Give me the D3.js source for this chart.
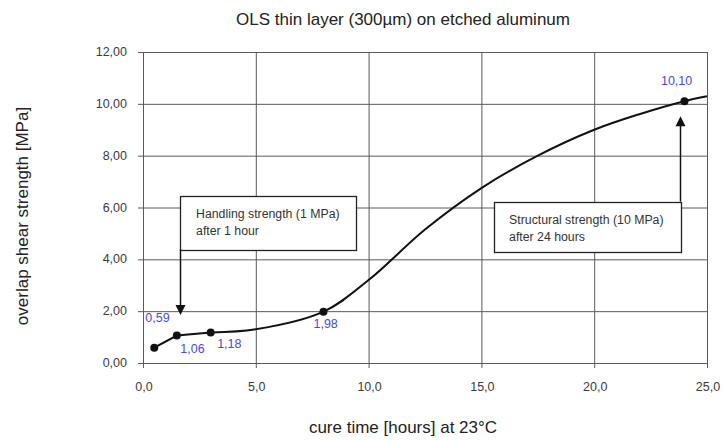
<!DOCTYPE html>
<html>
<head>
<meta charset="utf-8">
<script src="https://cdn.jsdelivr.net/npm/d3@7"></script>
<style>
  body { margin: 0; background: #fff; }
  svg { display: block; font-family: "Liberation Sans", Arial, sans-serif; }
</style>
</head>
<body>
<svg id="chart"></svg>
<script>
// measured points
const hours = [0.5, 1.5, 3, 8, 24];
const strength = [0.59, 1.06, 1.18, 1.98, 10.10];
const pointLabels = ["0,59", "1,06", "1,18", "1,98", "10,10"];

// smoothed trend line (straight over the first points)
const startHours = [0.5, 1.5, 3];
const startStrength = [0.59, 1.06, 1.18];
const curveHours = [3, 5, 8, 10, 12.5, 15, 17.5, 20, 22, 24, 25];
const curveStrength = [1.18, 1.3, 1.98, 3.2, 5.15, 6.75, 8.0, 9.0, 9.6, 10.1, 10.29];

const xTicks = [0, 5, 10, 15, 20, 25];
const yTicks = [0, 2, 4, 6, 8, 10, 12];

const title = "OLS thin layer (300µm) on etched aluminum";
const xTitle = "cure time [hours] at 23°C";
const yTitle = "overlap shear strength [MPa]";

const notes = [
  { lines: ["Handling strength (1 MPa)", "after 1 hour"] },
  { lines: ["Structural strength (10 MPa)", "after 24 hours"] }
];

const width = 725, height = 441;
const margin = { top: 52, right: 18, bottom: 78, left: 143 };

const svg = d3.select("#chart").attr("width", width).attr("height", height);

const x = d3.scaleLinear().domain([0, 25]).range([margin.left, width - margin.right]);
const y = d3.scaleLinear().domain([0, 12]).range([height - margin.bottom, margin.top]);

const gridColor = "#5a5a5a";
const textColor = "#3a3a3a";
const labelBlue = "#4a4ad6";

// grid
svg.append("g")
  .selectAll("line")
  .data(yTicks)
  .join("line")
  .attr("x1", x(0) - 5).attr("x2", x(25))
  .attr("y1", d => y(d) + 0.5).attr("y2", d => y(d) + 0.5)
  .attr("stroke", gridColor).attr("stroke-width", 1);

svg.append("g")
  .selectAll("line")
  .data(xTicks)
  .join("line")
  .attr("x1", d => x(d) + 0.5).attr("x2", d => x(d) + 0.5)
  .attr("y1", y(12)).attr("y2", y(0) + 5)
  .attr("stroke", gridColor).attr("stroke-width", 1);

// tick labels
const fmtY = d => d3.format(".2f")(d).replace(".", ",");
const fmtX = d => d3.format(".1f")(d).replace(".", ",");

svg.append("g")
  .selectAll("text")
  .data(yTicks)
  .join("text")
  .attr("x", x(0) - 16)
  .attr("y", d => y(d) + 4)
  .attr("text-anchor", "end")
  .attr("font-size", 12.5)
  .attr("fill", textColor)
  .text(fmtY);

svg.append("g")
  .selectAll("text")
  .data(xTicks)
  .join("text")
  .attr("x", d => x(d) + 1)
  .attr("y", y(0) + 28)
  .attr("text-anchor", "middle")
  .attr("font-size", 12.5)
  .attr("fill", textColor)
  .text(fmtX);

// titles
svg.append("text")
  .attr("x", 403).attr("y", 25)
  .attr("text-anchor", "middle")
  .attr("font-size", 17)
  .attr("fill", "#222")
  .text(title);

svg.append("text")
  .attr("x", 403).attr("y", 433)
  .attr("text-anchor", "middle")
  .attr("font-size", 17)
  .attr("fill", "#222")
  .text(xTitle);

svg.append("text")
  .attr("transform", "translate(28,216) rotate(-90)")
  .attr("text-anchor", "middle")
  .attr("font-size", 17)
  .attr("fill", "#222")
  .text(yTitle);

// trend: straight start, then smooth
const line = d3.line().x(d => x(d[0])).y(d => y(d[1]));
svg.append("path")
  .datum(startHours.map((h, i) => [h, startStrength[i]]))
  .attr("fill", "none")
  .attr("stroke", "#111")
  .attr("stroke-width", 2)
  .attr("d", line);

svg.append("path")
  .datum(curveHours.map((h, i) => [h, curveStrength[i]]))
  .attr("fill", "none")
  .attr("stroke", "#111")
  .attr("stroke-width", 2)
  .attr("d", line.curve(d3.curveCatmullRom.alpha(0.5)));

// markers
const pts = hours.map((h, i) => ({ h, v: strength[i], label: pointLabels[i] }));
svg.append("g")
  .selectAll("circle")
  .data(pts)
  .join("circle")
  .attr("cx", d => x(d.h))
  .attr("cy", d => y(d.v))
  .attr("r", 4)
  .attr("fill", "#111");

// value labels (offsets in px)
const labelOffsets = [[-9, -26], [3.5, 17], [6.5, 15.5], [-10, 16.5], [-23.5, -16]];
svg.append("g")
  .selectAll("text")
  .data(pts)
  .join("text")
  .attr("x", (d, i) => x(d.h) + labelOffsets[i][0])
  .attr("y", (d, i) => y(d.v) + labelOffsets[i][1])
  .attr("font-size", 12.5)
  .attr("fill", labelBlue)
  .text(d => d.label);

// annotation boxes, in data units, with arrows
const noteBoxes = [
  { x0: 1.62, x1: 9.41, y0: 6.46, y1: 4.39, arrowX: 1.65, tipY: 1.85, tx: 16.5 },
  { x0: 15.54, x1: 23.82, y0: 6.23, y1: 4.3, arrowX: 23.82, tipY: 9.52, tx: 15.5 }
];

noteBoxes.forEach((b, i) => {
  const g = svg.append("g");
  g.append("rect")
    .attr("x", Math.round(x(b.x0)) + 0.5)
    .attr("y", Math.round(y(b.y0)) + 0.5)
    .attr("width", Math.round(x(b.x1) - x(b.x0)))
    .attr("height", Math.round(y(b.y1) - y(b.y0)))
    .attr("fill", "#fff")
    .attr("stroke", "#222")
    .attr("stroke-width", 1.3);
  g.selectAll("text")
    .data(notes[i].lines)
    .join("text")
    .attr("x", x(b.x0) + b.tx)
    .attr("y", (d, j) => y(b.y0) + 22 + j * 17)
    .attr("font-size", 12.3)
    .attr("fill", "#333")
    .text(d => d);

  const ax = Math.round(x(b.arrowX)) + 0.5;
  const fromY = b.tipY < b.y1 ? y(b.y1) : y(b.y0);
  const tip = y(b.tipY);
  const dir = tip > fromY ? 1 : -1;
  g.append("line")
    .attr("x1", ax).attr("x2", ax)
    .attr("y1", fromY).attr("y2", tip - dir * 8)
    .attr("stroke", "#111").attr("stroke-width", 1.5);
  g.append("path")
    .attr("d", `M${ax - 5},${tip - dir * 10}L${ax + 5},${tip - dir * 10}L${ax},${tip}Z`)
    .attr("fill", "#111");
});
</script>
</body>
</html>
